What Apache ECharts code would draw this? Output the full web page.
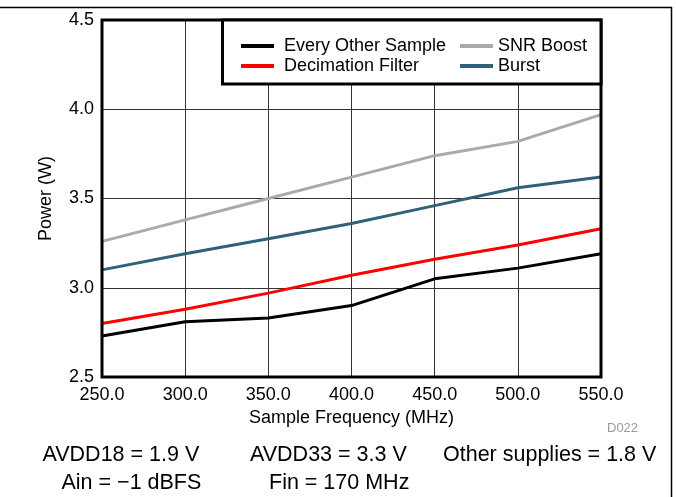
<!DOCTYPE html>
<html>
<head>
<meta charset="utf-8">
<script src="https://cdn.jsdelivr.net/npm/echarts@6/dist/echarts.min.js"></script>
<style>
  html, body { margin: 0; padding: 0; background: #fff; }
  #main { width: 676px; height: 497px; }
</style>
</head>
<body>
<div id="main"></div>
<script>
var freqs = [250, 300, 350, 400, 450, 500, 550];
var everyOther = [2.73, 2.81, 2.83, 2.90, 3.05, 3.11, 3.19];
var decimation = [2.80, 2.88, 2.97, 3.07, 3.16, 3.24, 3.33];
var snrBoost = [3.26, 3.38, 3.50, 3.62, 3.74, 3.82, 3.97];
var burst = [3.10, 3.19, 3.275, 3.36, 3.46, 3.56, 3.62];

var FONT = 'Liberation Sans, Arial, sans-serif';

function pairs(vals) {
    return freqs.map(function (f, i) { return [f, vals[i]]; });
}

function line(name, color, vals) {
    return {
        name: name,
        type: 'line',
        data: pairs(vals),
        symbol: 'none',
        lineStyle: { color: color, width: 3 },
        itemStyle: { color: color },
        z: 2
    };
}

// footnote text under the chart
function note(x, y, text) {
    return {
        type: 'text', x: x, y: y,
        style: { text: text, font: '21.5px ' + FONT, fill: '#000', verticalAlign: 'middle' }
    };
}

var myChart = echarts.init(document.getElementById('main'));

var option = {
    animation: false,
    backgroundColor: '#fff',
    grid: {
        left: 102, right: 75, top: 20, bottom: 120,
        show: true, borderColor: '#000', borderWidth: 3, z: 5
    },
    legend: [
        {
            data: ['Every Other Sample', 'Decimation Filter'],
            orient: 'vertical', left: 236, top: 32,
            itemWidth: 33, itemHeight: 4, itemGap: 2,
            icon: 'rect',
            textStyle: { fontFamily: FONT, fontSize: 18, color: '#000', padding: [0, 0, 0, 5] },
            z: 10
        },
        {
            data: ['SNR Boost', 'Burst'],
            orient: 'vertical', left: 455, top: 32,
            itemWidth: 33, itemHeight: 4, itemGap: 2,
            icon: 'rect',
            textStyle: { fontFamily: FONT, fontSize: 18, color: '#000' },
            z: 10
        }
    ],
    xAxis: {
        type: 'value', min: 250, max: 550, interval: 50,
        name: 'Sample Frequency (MHz)', nameLocation: 'middle', nameGap: 32,
        nameTextStyle: { fontFamily: FONT, fontSize: 18, color: '#000' },
        axisLine: { show: false },
        axisTick: { show: false },
        axisLabel: {
            fontFamily: FONT, fontSize: 18, color: '#000', margin: 9,
            formatter: function (v) { return v.toFixed(1); }
        },
        splitLine: { lineStyle: { color: '#333', width: 1 } }
    },
    yAxis: {
        type: 'value', min: 2.5, max: 4.5, interval: 0.5,
        name: 'Power (W)', nameLocation: 'middle', nameGap: 47, nameRotate: 90,
        nameTextStyle: { fontFamily: FONT, fontSize: 18, color: '#000' },
        axisLine: { show: false },
        axisTick: { show: false },
        axisLabel: {
            fontFamily: FONT, fontSize: 18, color: '#000', margin: 8,
            formatter: function (v) { return v.toFixed(1); }
        },
        splitLine: { lineStyle: { color: '#333', width: 1 } }
    },
    graphic: [
        { type: 'line', shape: { x1: 0, y1: 7.5, x2: 672, y2: 7.5 }, style: { stroke: '#000', lineWidth: 1.5 } },
        { type: 'line', shape: { x1: 671.5, y1: 7, x2: 671.5, y2: 497 }, style: { stroke: '#000', lineWidth: 1.5 } },
        {
            type: 'rect', shape: { x: 222.5, y: 20, width: 378.5, height: 64 },
            style: { fill: '#fff', stroke: '#000', lineWidth: 3 }, z: 8
        },
        {
            type: 'text', x: 607, y: 428.5,
            style: { text: 'D022', font: '13px ' + FONT, fill: '#999', verticalAlign: 'middle' }
        },
        note(42.5, 455, 'AVDD18 = 1.9 V'),
        note(250, 455, 'AVDD33 = 3.3 V'),
        note(443, 455, 'Other supplies = 1.8 V'),
        note(61.5, 483, 'Ain = \u22121 dBFS'),
        note(269, 483, 'Fin = 170 MHz')
    ],
    series: [
        line('Every Other Sample', '#000000', everyOther),
        line('Decimation Filter', '#ff0000', decimation),
        line('SNR Boost', '#aaaaaa', snrBoost),
        line('Burst', '#2f6178', burst)
    ]
};

myChart.setOption(option);
</script>
</body>
</html>
